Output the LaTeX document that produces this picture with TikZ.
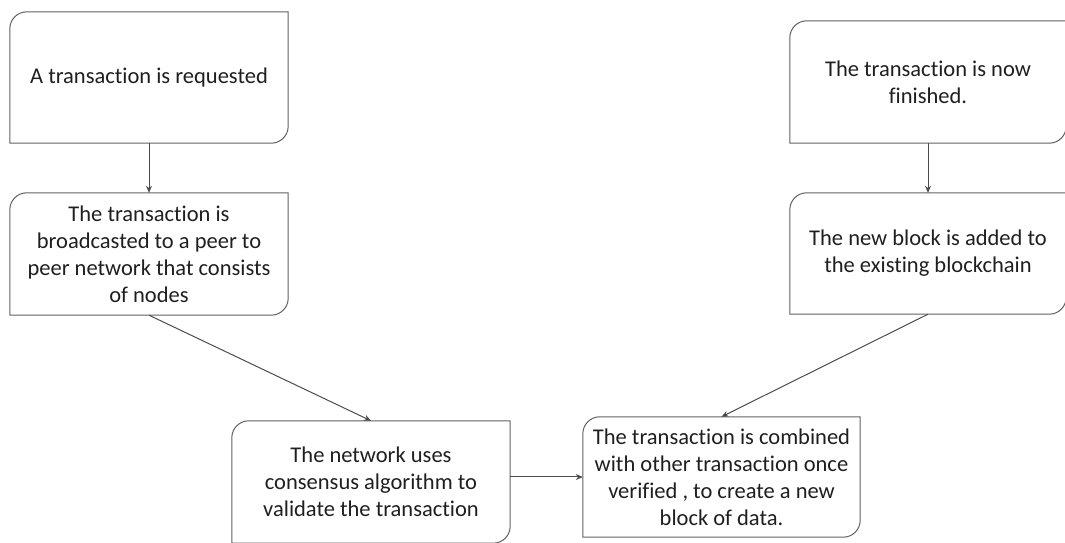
\documentclass[tikz,border=0pt]{standalone}
\usepackage{fontspec}
\setmainfont[RawFeature=-liga]{Carlito}
\usetikzlibrary{arrows.meta,calc}

% outline with the top-left and bottom-right corners rounded
\newcommand\diagoutline[2][17]{%
  \draw[boxline] ($(#2.north west)+(0,-#1)$)
    arc[start angle=180,end angle=90,radius=#1]
    -- (#2.north east)
    -- ($(#2.south east)+(0,#1)$)
    arc[start angle=0,end angle=-90,radius=#1]
    -- (#2.south west) -- cycle;}

\begin{document}
\begin{tikzpicture}[x=1pt,y=1pt,
  stepnode/.style={minimum width=278pt, inner sep=0pt, align=center,
    font=\fontsize{22.5}{27}\selectfont, text=black!88},
  boxline/.style={draw=black!62, line width=1pt},
  flow/.style={draw=black!70, line width=1pt,
    -{Stealth[length=7pt,width=6pt]}}]
\useasboundingbox (0,0) rectangle (1065,543);

\node[stepnode, minimum height=131pt] (req) at (149,465.5)
  {A transaction is requested};
\node[stepnode, minimum height=122pt] (bcast) at (149,289)
  {The transaction is\\broadcasted to a peer to\\peer network that consists\\of nodes};
\node[stepnode, minimum height=122pt] (valid) at (371,61)
  {The network uses\\consensus algorithm to\\validate the transaction};
\node[stepnode, minimum width=277pt, minimum height=120pt] (combine) at (721.5,66)
  {The transaction is combined\\with other transaction once\\verified , to create a new\\block of data.};
\node[stepnode, minimum width=276pt, minimum height=121pt] (added) at (928,289.5)
  {The new block is added to\\the existing blockchain};
\node[stepnode, minimum width=276pt, minimum height=122pt] (done) at (928,461)
  {The transaction is now\\finished.};

\foreach \n in {req,bcast,valid,combine,added,done} {\diagoutline{\n}}

\draw[flow] (req.south) -- (bcast.north);
\draw[flow] (bcast.south) -- (valid.north);
\draw[flow] (valid.east |- combine.west) -- (combine.west);
\draw[flow] (added.south) -- (combine.north);
\draw[flow] (done.south) -- (added.north);
\end{tikzpicture}
\end{document}
